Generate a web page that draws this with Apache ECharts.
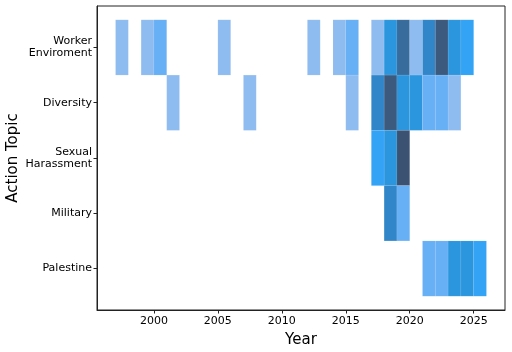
<!DOCTYPE html>
<html>
<head>
<meta charset="utf-8">
<script src="https://cdn.jsdelivr.net/npm/echarts@6/dist/echarts.min.js"></script>
<style>
  html, body { margin: 0; padding: 0; background: #fff; }
  #chart { width: 512px; height: 352px; }
</style>
</head>
<body>
<div id="chart"></div>
<script>
// topics, top to bottom
const topics = ['Worker\nEnviroment', 'Diversity', 'Sexual\nHarassment', 'Military', 'Palestine']

// one entry per filled 1-year bin: year, topic index, count
const binYears = [
  1997, 1999, 2000, 2005, 2012, 2014, 2015, 2017, 2018, 2019, 2020, 2021, 2022, 2023, 2024,
  2001, 2007, 2015, 2017, 2018, 2019, 2020, 2021, 2022, 2023,
  2017, 2018, 2019,
  2018, 2019,
  2021, 2022, 2023, 2024, 2025
]
const binTopics = [
  0, 0, 0, 0, 0, 0, 0, 0, 0, 0, 0, 0, 0, 0, 0,
  1, 1, 1, 1, 1, 1, 1, 1, 1, 1,
  2, 2, 2,
  3, 3,
  4, 4, 4, 4, 4
]
const binCounts = [
  1, 1, 2, 1, 1, 1, 2, 1, 4, 6, 1, 5, 7, 4, 3,
  1, 1, 1, 5, 7, 4, 4, 2, 2, 1,
  3, 4, 8,
  5, 2,
  2, 2, 4, 4, 3
]

const xTicks = [2000, 2005, 2010, 2015, 2020, 2025]

// count -> colour, light to dark
const palette = ['#8fbcf0', '#67b0f5', '#33a3f6', '#2b96de', '#3086c8', '#386c9c', '#3c5a7e', '#3c5272']

const data = binYears.map((y, i) => [y, binTopics[i], binCounts[i]])

const chart = echarts.init(document.getElementById('chart'))

chart.setOption({
  animation: false,
  grid: {
    left: 97, right: 7, top: 6, bottom: 42,
    outerBoundsMode: 'none',
    containLabel: false,
    show: true, borderColor: '#222', borderWidth: 1
  },
  xAxis: {
    type: 'value',
    min: 1995.55,
    max: 2027.45,
    name: 'Year',
    nameLocation: 'middle',
    nameGap: 23,
    nameMoveOverlap: false,
    nameTextStyle: { fontFamily: 'DejaVu Sans', fontSize: 15, color: '#000' },
    axisLine: { show: true, onZero: false, lineStyle: { color: '#222' } },
    axisTick: { show: true, length: 3.5, lineStyle: { color: '#222' }, customValues: xTicks },
    axisLabel: {
      fontFamily: 'DejaVu Sans', fontSize: 11, color: '#000', margin: 6,
      customValues: xTicks,
      formatter: v => String(v)
    },
    splitLine: { show: false }
  },
  yAxis: {
    type: 'value',
    inverse: true,
    min: -0.75,
    max: 4.75,
    name: 'Action Topic',
    nameLocation: 'middle',
    nameGap: 76,
    nameMoveOverlap: false,
    nameTextStyle: { fontFamily: 'DejaVu Sans', fontSize: 15, color: '#000' },
    axisLine: { show: true, onZero: false, lineStyle: { color: '#222' } },
    axisTick: { show: true, length: 3.5, lineStyle: { color: '#222' }, customValues: [0, 1, 2, 3, 4] },
    axisLabel: {
      fontFamily: 'DejaVu Sans', fontSize: 11, color: '#000', margin: 5,
      lineHeight: 12,
      customValues: [0, 1, 2, 3, 4],
      formatter: v => topics[Math.round(v)] || ''
    },
    splitLine: { show: false }
  },
  series: [{
    type: 'custom',
    data: data,
    renderItem: (params, api) => {
      const x = api.value(0)
      const t = api.value(1)
      const c = api.value(2)
      const p0 = api.coord([x, t - 0.5])
      const p1 = api.coord([x + 1, t + 0.5])
      return {
        type: 'rect',
        shape: {
          x: Math.min(p0[0], p1[0]),
          y: Math.min(p0[1], p1[1]),
          width: Math.abs(p1[0] - p0[0]),
          height: Math.abs(p1[1] - p0[1])
        },
        style: { fill: palette[c - 1], stroke: 'rgba(255,255,255,0.12)', lineWidth: 0.5 }
      }
    }
  }]
})
</script>
</body>
</html>
